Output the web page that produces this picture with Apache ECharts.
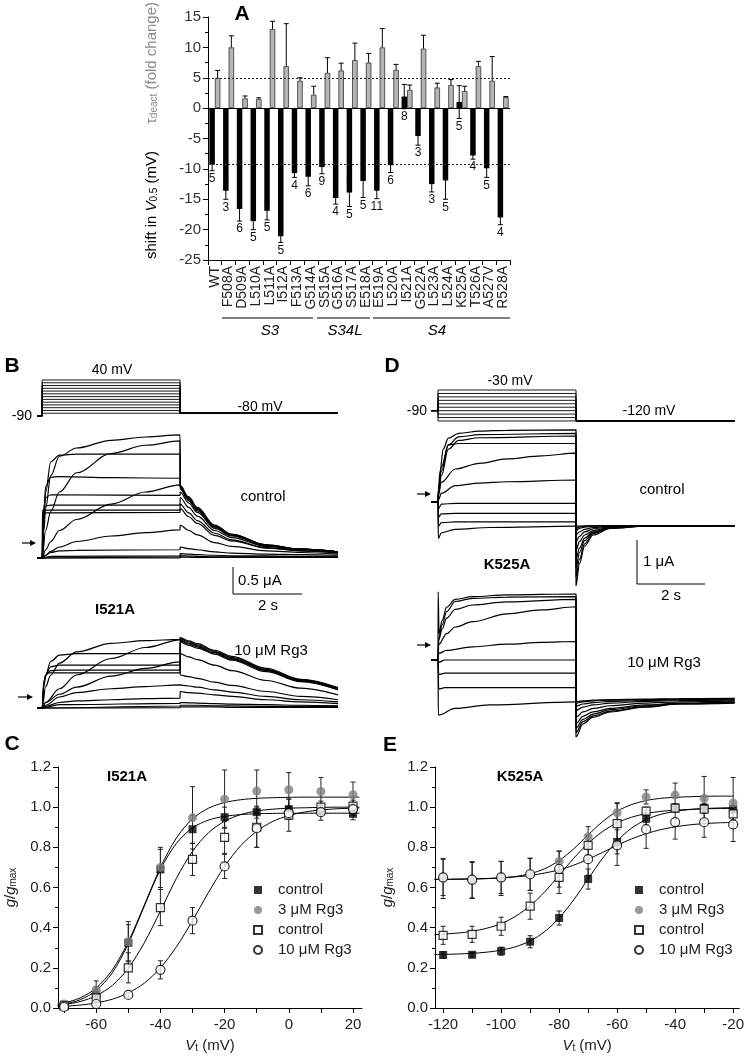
<!DOCTYPE html>
<html><head><meta charset="utf-8">
<script src="https://cdn.jsdelivr.net/npm/echarts@6/dist/echarts.min.js"></script>
<style>html,body{margin:0;padding:0;background:#fff}#c{width:747px;height:1061px}</style>
</head><body><div id="c"></div>
<script>
// ---------------- Panel A data ----------------
const categories = ['WT','F508A','D509A','L510A','L511A','I512A','F513A','G514A','S515A','G516A','S517A','E518A','E519A','L520A','I521A','G522A','L523A','L524A','K525A','T526A','A527V','R528A'];
const shiftV   = [-9.3,-13.6,-16.6,-18.6,-16.9,-21.1,-10.7,-11.3,-9.7,-14.8,-13.9,-12.0,-13.6,-9.4,1.9,-4.6,-12.5,-11.9,1.0,-7.8,-9.9,-18.0];
const shiftErr = [1.0,1.4,2.0,1.4,1.5,1.0,0.7,1.5,1.1,1.0,2.3,2.7,1.3,1.2,2.0,1.5,1.3,3.1,2.7,0.6,1.5,1.2];
const nCells   = [5,3,6,5,5,5,4,6,9,4,5,5,11,6,8,3,3,5,5,4,5,4];
const tauFold  = [5.0,10.0,1.6,1.5,13.0,6.9,4.5,2.2,5.8,6.2,7.9,7.5,10.0,6.3,3.0,9.8,3.4,3.8,2.8,6.9,4.5,1.8];
const tauErr   = [1.2,1.9,0.4,0.2,1.3,7.0,0.5,1.4,2.5,1.2,2.8,1.5,3.1,0.9,0.8,2.2,0.7,0.9,0.8,0.8,4.0,0.1];
const refTau = 5, refShift = -9.3;
const aTicks = [-25,15,5];

// ---------------- Panel B data (I521A, +40 protocol) ----------------
const bStepV = [-80,-70,-60,-50,-40,-30,-20,-10,0,10,20,30,40];
const bHoldV = -90, bTailV = -80;
const bTimes = [-0.15, 0, 4, 8.58]; // hold start, step start, step end, end (s)
const bTailT = [4.001,4.25,4.5,5,5.5,6.5,7.5,8.58];
const bCtrlStep = [
 [[0,0],[0.05,0.5],[0.1,0.9],[0.25,1.5],[0.5,1.85],[1,2.0],[2,2.14],[3,2.2],[4,2.24]],
 [[0,0],[0.1,0.5],[0.25,0.85],[0.5,1.2],[1,1.55],[2,1.9],[3,2.05],[4,2.13]],
 [[0,0],[0.05,0.7],[0.1,1.2],[0.25,1.75],[0.5,1.87],[1,1.89],[4,1.89]],
 [[0,0],[0.05,0.8],[0.1,1.3],[0.25,1.47],[0.5,1.48],[2,1.46],[4,1.45]],
 [[0,0],[0.1,0.15],[0.25,0.3],[0.5,0.5],[1,0.7],[2,0.98],[3,1.2],[4,1.33]],
 [[0,0],[0.04,0.9],[0.1,1.1],[0.25,1.15],[4,1.14]],
 [[0,0],[0.03,0.85],[0.1,0.95],[0.25,0.96],[4,0.96]],
 [[0,0],[0.01,0.87],[0.1,0.87],[4,0.87]],
 [[0,0],[0.02,0.7],[0.1,0.82],[4,0.83]],
 [[0,0],[0.1,0.05],[0.25,0.12],[0.5,0.2],[1,0.3],[2,0.4],[3,0.46],[4,0.51]],
 [[0,0],[0.1,0.05],[0.25,0.1],[0.5,0.13],[1,0.14],[4,0.15]],
 [[0,0],[0.25,0.03],[4,0.04]],
 [[0,0],[4,0.02]],
 [[0,0],[4,0.0]]
];
const bCtrlTail = [
 [1.32,1.1,0.9,0.59,0.43,0.24,0.16,0.11],
 [1.3,1.08,0.89,0.58,0.42,0.23,0.16,0.11],
 [1.28,1.06,0.88,0.57,0.41,0.23,0.16,0.11],
 [1.25,1.04,0.86,0.56,0.41,0.23,0.16,0.11],
 [1.33,1.11,0.92,0.6,0.43,0.24,0.16,0.11],
 [1.2,1.0,0.83,0.54,0.4,0.22,0.15,0.11],
 [1.1,0.92,0.76,0.5,0.37,0.21,0.15,0.11],
 [0.98,0.82,0.68,0.45,0.33,0.19,0.13,0.1],
 [0.9,0.75,0.63,0.41,0.31,0.18,0.13,0.09],
 [0.6,0.5,0.42,0.28,0.21,0.13,0.1,0.07],
 [0.2,0.17,0.15,0.11,0.09,0.07,0.06,0.05],
 [0.08,0.07,0.06,0.05,0.04,0.04,0.03,0.03],
 [0.04,0.035,0.03,0.02,0.02,0.02,0.02,0.02],
 [0.02,0.015,0.01,0.01,0.01,0.01,0.01,0.01]
];
const bRgStep = [
 [[0,0],[0.1,0.39],[0.25,0.6],[0.5,0.815],[1,1.02],[2,1.176],[3,1.224],[4,1.249]],
 [[0,0],[0.1,0.1],[0.5,0.35],[1,0.6],[2,0.9],[3,1.1],[4,1.24]],
 [[0,0],[0.05,0.4],[0.1,0.6],[0.25,0.85],[0.5,0.96],[1,0.99],[4,0.99]],
 [[0,0],[0.1,0.1],[0.5,0.25],[1,0.38],[2,0.58],[3,0.72],[4,0.84]],
 [[0,0],[0.05,0.45],[0.1,0.6],[0.25,0.75],[0.5,0.78],[4,0.78]],
 [[0,0],[0.05,0.45],[0.1,0.6],[0.25,0.68],[0.5,0.69],[4,0.69]],
 [[0,0],[0.05,0.5],[0.15,0.64],[4,0.64]],
 [[0,0],[0.1,0.05],[0.5,0.2],[1,0.28],[2,0.35],[3,0.39],[4,0.42]],
 [[0,0],[0.1,0.03],[0.5,0.1],[1,0.13],[2,0.15],[3,0.17],[4,0.18]],
 [[0,0],[0.5,0.06],[4,0.085]],
 [[0,0],[4,0.036]],
 [[0,0],[4,0.006]]
];
const bRgTail = [
 [1.28,1.22,1.17,1.05,0.94,0.72,0.52,0.37],
 [1.26,1.2,1.15,1.03,0.92,0.70,0.51,0.36],
 [1.24,1.18,1.13,1.01,0.9,0.69,0.5,0.35],
 [0.6,0.57,0.54,0.47,0.41,0.3,0.21,0.15],
 [1.22,1.16,1.11,1.0,0.89,0.68,0.49,0.34],
 [1.2,1.14,1.09,0.98,0.87,0.66,0.48,0.33],
 [0.99,0.93,0.88,0.78,0.68,0.5,0.36,0.24],
 [0.42,0.4,0.38,0.33,0.29,0.21,0.15,0.11],
 [0.3,0.28,0.27,0.24,0.21,0.15,0.11,0.08],
 [0.1,0.095,0.09,0.08,0.07,0.06,0.05,0.04],
 [0.05,0.05,0.05,0.04,0.04,0.03,0.03,0.03],
 [0.02,0.02,0.02,0.02,0.01,0.01,0.01,0.01]
];

// ---------------- Panel D data (K525A, -30 protocol) ----------------
const dStepV = [-120,-110,-100,-90,-80,-70,-60,-50,-40,-30];
const dHoldV = -90, dTailV = -120;
const dTimes = [-0.2, 0, 4, 8.6];
const dTailCtrlT = [4.001,4.1,4.25,4.5,5,6,8.6];
const dTailRgT = [4.001,4.2,4.5,5,6,7,8.6];
const dCtrlStep = [
 [[0,0],[0.01,0.3],[0.06,0.7],[0.15,1.2],[0.3,1.45],[0.6,1.56],[1.2,1.61],[2,1.63],[4,1.64]],
 [[0,0],[0.01,0.25],[0.1,0.7],[0.3,1.3],[0.6,1.48],[1.2,1.53],[4,1.56]],
 [[0,0],[0.01,0.2],[0.1,0.6],[0.3,1.2],[0.6,1.4],[1.2,1.46],[4,1.5]],
 [[0,0],[0.01,0.2],[0.1,0.8],[0.3,1.3],[0.6,1.33],[4,1.33]],
 [[0,0],[0.01,0.15],[0.1,0.45],[0.5,0.75],[1.2,0.88],[2,0.98],[3,1.05],[4,1.11]],
 [[0,0],[0.01,0.05],[0.1,0.2],[0.5,0.37],[1.2,0.43],[2,0.46],[4,0.5]],
 [[0,0],[0.01,-0.15],[0.1,-0.05],[0.5,-0.03],[4,-0.03]],
 [[0,0],[0.01,-0.35],[0.1,-0.27],[0.5,-0.26],[4,-0.26]],
 [[0,0],[0.01,-0.55],[0.1,-0.47],[0.5,-0.45],[4,-0.45]],
 [[0,0],[0.01,-0.83],[0.1,-0.7],[0.5,-0.62],[1.5,-0.58],[4,-0.55]]
];
const dCtrlTail = [
 [-1.9,-1.4,-1.0,-0.75,-0.6,-0.55,-0.54],
 [-1.7,-1.3,-0.95,-0.72,-0.59,-0.55,-0.54],
 [-1.5,-1.15,-0.88,-0.7,-0.58,-0.55,-0.54],
 [-1.3,-1.05,-0.82,-0.68,-0.58,-0.55,-0.54],
 [-1.1,-0.9,-0.75,-0.65,-0.57,-0.55,-0.54],
 [-0.9,-0.78,-0.68,-0.61,-0.56,-0.54,-0.54],
 [-0.75,-0.68,-0.62,-0.58,-0.55,-0.54,-0.54],
 [-0.65,-0.6,-0.57,-0.55,-0.54,-0.54,-0.54],
 [-0.6,-0.57,-0.55,-0.54,-0.54,-0.54,-0.54],
 [-0.56,-0.55,-0.54,-0.54,-0.54,-0.54,-0.54]
];
const dRgStep = [
 [[0,0],[0.005,1.55],[0.03,0.6],[0.12,0.9],[0.25,1.2],[0.5,1.38],[1,1.44],[2,1.48],[4,1.5]],
 [[0,0],[0.02,0.5],[0.12,0.8],[0.25,1.1],[0.5,1.33],[1,1.4],[2,1.43],[4,1.44]],
 [[0,0],[0.02,0.45],[0.12,0.7],[0.25,0.95],[0.5,1.15],[1,1.25],[2,1.32],[4,1.38]],
 [[0,0],[0.02,0.35],[0.25,0.6],[0.5,0.75],[1,0.87],[2,1.05],[3,1.14],[4,1.21]],
 [[0,0],[0.02,0.15],[0.25,0.22],[1,0.3],[2,0.36],[3,0.4],[4,0.42]],
 [[0,0],[0.02,-0.05],[0.2,0],[4,0]],
 [[0,0],[0.02,-0.33],[0.2,-0.3],[4,-0.3]],
 [[0,0],[0.02,-0.66],[0.2,-0.63],[4,-0.63]],
 [[0,0],[0.01,-1.25],[0.5,-1.1],[1.5,-1.02],[4,-0.95]]
];
const dRgTail = [
 [-1.75,-1.45,-1.3,-1.18,-1.07,-1.0,-0.98],
 [-1.65,-1.4,-1.27,-1.16,-1.06,-1.0,-0.97],
 [-1.55,-1.35,-1.23,-1.13,-1.04,-0.99,-0.96],
 [-1.45,-1.28,-1.18,-1.1,-1.02,-0.98,-0.95],
 [-1.3,-1.18,-1.1,-1.04,-0.98,-0.95,-0.93],
 [-1.15,-1.07,-1.02,-0.98,-0.94,-0.92,-0.91],
 [-1.05,-1.0,-0.97,-0.94,-0.92,-0.9,-0.89],
 [-0.98,-0.95,-0.93,-0.91,-0.9,-0.89,-0.88],
 [-0.95,-0.93,-0.91,-0.9,-0.89,-0.88,-0.87]
];

// ---------------- Panel C data (I521A G-V) ----------------
const cVt = [-70,-60,-50,-40,-30,-20,-10,0,10,20];
const cCtrl1 = [0.017,0.067,0.325,0.69,0.89,0.95,0.975,0.99,0.98,0.967];
const cCtrl1Err = [0.01,0.04,0.09,0.1,0.07,0.05,0.03,0.05,0.02,0.03];
const cRg3 = [0.02,0.09,0.33,0.70,0.947,1.04,1.08,1.087,1.078,1.062];
const cRg3Err = [0.01,0.045,0.1,0.1,0.155,0.145,0.105,0.085,0.07,0.063];
const cCtrl2 = [0.01,0.05,0.20,0.50,0.74,0.85,0.90,0.96,1.0,1.005];
const cCtrl2Err = [0.01,0.02,0.075,0.09,0.08,0.08,0.1,0.08,0.03,0.03];
const cRg10 = [0.005,0.02,0.065,0.19,0.435,0.705,0.895,0.97,0.975,0.99];
const cRg10Err = [0.005,0.01,0.01,0.045,0.065,0.06,0.095,0.03,0.04,0.03];
const cFitV = [-72,-70,-65,-60,-55,-50,-45,-40,-35,-30,-25,-20,-15,-10,-5,0,5,10,15,20,22];
const cFitCtrl1 = [0.014,0.019,0.041,0.087,0.175,0.32,0.508,0.69,0.82,0.897,0.936,0.954,0.963,0.967,0.969,0.97,0.97,0.97,0.97,0.97,0.97];
const cFitRg3 = [0.0185,0.025,0.05,0.10,0.189,0.33,0.513,0.70,0.847,0.942,0.995,1.023,1.037,1.044,1.047,1.049,1.05,1.05,1.05,1.05,1.05];
const cFitCtrl2 = [0.013,0.017,0.032,0.061,0.112,0.198,0.325,0.483,0.646,0.78,0.873,0.93,0.963,0.981,0.99,0.995,0.997,0.999,1.0,1.0,1.0];
const cFitRg10 = [0.0067,0.0083,0.0146,0.0253,0.0437,0.075,0.124,0.20,0.305,0.435,0.576,0.705,0.808,0.88,0.929,0.958,0.976,0.986,0.992,0.995,0.996];
const cXLabels = [-60,-40,-20,0,20];
const cXTicks = [-70,-60,-50,-40,-30,-20,-10,0,10,20];

// ---------------- Panel E data (K525A G-V) ----------------
const eVt = [-120,-110,-100,-90,-80,-70,-60,-50,-40,-30,-20];
const eCtrl1 = [0.264,0.265,0.283,0.33,0.448,0.642,0.827,0.942,0.997,0.997,0.99];
const eCtrl1Err = [0.015,0.01,0.02,0.03,0.035,0.05,0.06,0.03,0.02,0.02,0.02];
const eRg3 = [0.645,0.635,0.645,0.665,0.73,0.853,0.972,1.051,1.06,1.043,1.021];
const eRg3Err = [0.1,0.09,0.085,0.08,0.05,0.05,0.05,0.035,0.06,0.11,0.127];
const eCtrl2 = [0.362,0.367,0.407,0.507,0.65,0.81,0.918,0.98,0.995,0.99,0.967];
const eCtrl2Err = [0.045,0.04,0.045,0.065,0.08,0.05,0.1,0.02,0.02,0.02,0.03];
const eRg10 = [0.65,0.639,0.65,0.666,0.692,0.741,0.81,0.89,0.926,0.925,0.914];
const eRg10Err = [0.09,0.09,0.08,0.08,0.09,0.08,0.1,0.095,0.085,0.075,0.085];
const eFitV = [-123,-120,-115,-110,-105,-100,-95,-90,-85,-80,-75,-70,-65,-60,-55,-50,-45,-40,-35,-30,-25,-20];
const eFitCtrl1 = [0.267,0.267,0.269,0.272,0.278,0.288,0.305,0.334,0.380,0.448,0.538,0.643,0.746,0.832,0.896,0.938,0.964,0.979,0.988,0.993,0.996,0.998];
const eFitRg3 = [0.640,0.640,0.641,0.642,0.644,0.648,0.655,0.669,0.693,0.734,0.792,0.862,0.928,0.980,1.013,1.033,1.044,1.049,1.052,1.054,1.055,1.055];
const eFitCtrl2 = [0.365,0.368,0.373,0.382,0.397,0.42,0.457,0.509,0.578,0.661,0.745,0.82,0.879,0.922,0.95,0.968,0.979,0.985,0.989,0.992,0.993,0.994];
const eFitRg10 = [0.641,0.641,0.642,0.643,0.645,0.648,0.653,0.660,0.672,0.688,0.711,0.741,0.775,0.810,0.842,0.868,0.888,0.902,0.912,0.918,0.922,0.924];
const eXLabels = [-120,-100,-80,-60,-40,-20];
const eXTicks = [-120,-110,-100,-90,-80,-70,-60,-50,-40,-30,-20];

const legendNames = {ctrl1:'control', rg3:'3 \u03bcM Rg3', ctrl2:'control', rg10:'10 \u03bcM Rg3'};

// ======================================================
const FONT = '"Liberation Sans", Arial, Helvetica, sans-serif';
const TXT = '#222';
const chart = echarts.init(document.getElementById('c'), null, {renderer:'canvas'});

const grids = [
  {left:208, top:17, width:302, height:243},          // 0 A
  {left:37, top:378.6, width:301, height:38.8},       // 1 B protocol
  {left:37, top:431.5, width:301, height:132},        // 2 B control
  {left:37, top:631, width:301, height:82.5},         // 3 B Rg3
  {left:431.1, top:388.3, width:303.6, height:34.4},  // 4 D protocol
  {left:431.1, top:425, width:303.6, height:165},     // 5 D control
  {left:431.1, top:587.4, width:303.6, height:156.2}, // 6 D Rg3
  {left:58, top:767, width:304, height:241},          // 7 C
  {left:435, top:767, width:305, height:241}          // 8 E
];
const hiddenX = (g, min, max) => ({gridIndex:g, type:'value', min, max, show:false, splitLine:{show:false}});
const hiddenY = (g, min, max) => ({gridIndex:g, type:'value', min, max, show:false, splitLine:{show:false}});

const nameRich = {
  i:{fontStyle:'italic', fontSize:15, fontFamily:FONT, color:TXT},
  s:{fontSize:10, fontFamily:FONT, color:TXT, verticalAlign:'bottom', lineHeight:10}
};
function gvX(g, min, max, labels, ticks){
  return {gridIndex:g, type:'value', min, max, position:'bottom',
    axisLine:{show:true, onZero:false, lineStyle:{color:'#000', width:1}},
    axisTick:{show:true, length:5, customValues:ticks, lineStyle:{color:'#000'}},
    axisLabel:{show:true, customValues:labels, fontSize:15, color:TXT, margin:9, fontFamily:FONT},
    splitLine:{show:false},
    name:'{i|V}{s|t} (mV)', nameLocation:'middle', nameGap:30,
    nameTextStyle:{fontSize:15, color:TXT, fontFamily:FONT, rich:nameRich}};
}
function gvY(g){
  return {gridIndex:g, type:'value', min:0, max:1.2, interval:0.2,
    axisLine:{show:true, onZero:false, lineStyle:{color:'#000', width:1}},
    axisTick:{show:true, length:5, lineStyle:{color:'#000'}},
    minorTick:{show:true, splitNumber:2, length:3, lineStyle:{color:'#000'}},
    axisLabel:{fontSize:15, color:TXT, margin:7, fontFamily:FONT, formatter:v=>v.toFixed(1)},
    splitLine:{show:false},
    name:'{i|g}/{i|g}{s|max}', nameLocation:'middle', nameRotate:90, nameGap:40,
    nameTextStyle:{fontSize:15, color:TXT, fontFamily:FONT, rich:nameRich}};
}

const xAxes = [
  {gridIndex:0, type:'category', data:categories, position:'bottom',
   axisLine:{onZero:false, lineStyle:{color:'#000', width:1}},
   axisTick:{show:true, length:5, interval:0, alignWithLabel:false, lineStyle:{color:'#000'}},
   axisLabel:{interval:0, rotate:90, fontSize:14, color:TXT, margin:6, fontFamily:FONT}},
  hiddenX(1, bTimes[0], bTimes[3]),
  hiddenX(2, bTimes[0], bTimes[3]),
  hiddenX(3, bTimes[0], bTimes[3]),
  hiddenX(4, dTimes[0], dTimes[3]),
  hiddenX(5, dTimes[0], dTimes[3]),
  hiddenX(6, dTimes[0], dTimes[3]),
  gvX(7, -71.9, 22.8, cXLabels, cXTicks),
  gvX(8, -122.8, -17.9, eXLabels, eXTicks)
];
const yAxes = [
  {gridIndex:0, type:'value', min:aTicks[0], max:aTicks[1], interval:aTicks[2],
   axisLine:{show:true, onZero:false, lineStyle:{color:'#000', width:1}},
   axisTick:{show:true, length:5, lineStyle:{color:'#000'}},
   minorTick:{show:true, splitNumber:2, length:3, lineStyle:{color:'#000'}},
   axisLabel:{fontSize:15, color:'#333', margin:7, fontFamily:FONT},
   splitLine:{show:false}},
  hiddenY(1, -95, 45),
  hiddenY(2, -0.1, 2.3),
  hiddenY(3, -0.1, 1.4),
  hiddenY(4, -125, -25),
  hiddenY(5, -2.0, 1.75),
  hiddenY(6, -1.9, 1.65),
  gvY(7),
  gvY(8)
];

const series = [];
// ---- Panel A bars
series.push({type:'bar', name:'shift', xAxisIndex:0, yAxisIndex:0, data:shiftV, barWidth:5.5, barGap:'0%',
  itemStyle:{color:'#000'}, z:2,
  markLine:{silent:true, symbol:'none', label:{show:false}, lineStyle:{type:'solid', color:'#000', width:1},
    data:[{yAxis:0}]}});
series.push({type:'bar', name:'tau', xAxisIndex:0, yAxisIndex:0, data:tauFold, barWidth:5.5, barGap:'0%',
  itemStyle:{color:'#b5b5b5', borderColor:'#333', borderWidth:0.8}, z:2,
  markLine:{silent:true, symbol:'none', label:{show:false}, lineStyle:{type:[2,2], color:'#222', width:1},
    data:[{yAxis:refTau},{yAxis:refShift}]}});
const aErrData = categories.map((c,i)=>[i, shiftV[i], shiftErr[i], 0]).concat(categories.map((c,i)=>[i, tauFold[i], tauErr[i], 1]));
series.push({type:'custom', xAxisIndex:0, yAxisIndex:0, z:3, data:aErrData,
  renderItem:function(params, api){
    const i=api.value(0), v=api.value(1), e=api.value(2), k=api.value(3);
    const off = k===0 ? -2.75 : 2.75;
    const p = api.coord([i, v]); const x = p[0]+off;
    const yTop = api.coord([i, v+e])[1];
    const yBot = k===1 ? p[1] : api.coord([i, v-e])[1];
    const st = {stroke:'#000', lineWidth:1};
    const ch = [{type:'line', shape:{x1:x, y1:yBot, x2:x, y2:yTop}, style:st},
                {type:'line', shape:{x1:x-2.5, y1:yTop, x2:x+2.5, y2:yTop}, style:st}];
    if(k===0) ch.push({type:'line', shape:{x1:x-2.5, y1:yBot, x2:x+2.5, y2:yBot}, style:st});
    return {type:'group', children:ch};
  }});
series.push({type:'custom', xAxisIndex:0, yAxisIndex:0, z:4, data:categories.map((c,i)=>[i, Math.min(shiftV[i]-shiftErr[i], 0), nCells[i]]),
  renderItem:function(params, api){
    const p = api.coord([api.value(0), api.value(1)]);
    return {type:'text', x:p[0]-2.75, y:p[1]+8, style:{text:String(api.value(2)), fontSize:12, fontFamily:FONT, fill:'#111', align:'center', verticalAlign:'middle'}};
  }});

// ---- Panels B and D: protocols and current traces
const traceStyle = {color:'#000', width:1.2};
function protocolSeries(g, volts, hold, tailV, times){
  volts.forEach(V=>{
    series.push({type:'line', xAxisIndex:g, yAxisIndex:g, showSymbol:false, symbol:'none', silent:true,
      lineStyle:{color:'#000', width:0.9}, animation:false,
      data:[[times[0],hold],[times[1],hold],[times[1],V],[times[2],V],[times[2],tailV],[times[3],tailV]]});
  });
}
function traceSeries(g, steps, tails, tailT, t0){
  steps.forEach((st, j)=>{
    const data = [[t0,0]].concat(st, tails[j].map((v,m)=>[tailT[m], v]));
    series.push({type:'line', xAxisIndex:g, yAxisIndex:g, showSymbol:false, symbol:'none', silent:true,
      smooth:0.35, smoothMonotone:'x', lineStyle:traceStyle, data});
  });
}
protocolSeries(1, bStepV, bHoldV, bTailV, bTimes);
traceSeries(2, bCtrlStep, bCtrlTail, bTailT, bTimes[0]);
traceSeries(3, bRgStep, bRgTail, bTailT, bTimes[0]);
protocolSeries(4, dStepV, dHoldV, dTailV, dTimes);
traceSeries(5, dCtrlStep, dCtrlTail, dTailCtrlT, dTimes[0]);
traceSeries(6, dRgStep, dRgTail, dTailRgT, dTimes[0]);

// ---- Panels C and E: G-V
const styles = {
  ctrl1:{symbol:'rect', symbolSize:8, itemStyle:{color:'#000'}},
  rg3:{symbol:'circle', symbolSize:9, itemStyle:{color:'#7f7f7f'}},
  ctrl2:{symbol:'rect', symbolSize:8, itemStyle:{color:'#fff', borderColor:'#000', borderWidth:1.2}},
  rg10:{symbol:'circle', symbolSize:9, itemStyle:{color:'#fff', borderColor:'#000', borderWidth:1.2}}
};
function errSeries(g, xs, ys, es){
  series.push({type:'custom', xAxisIndex:g, yAxisIndex:g, z:3, silent:true,
    data: xs.map((x,i)=>[x, ys[i], es[i]]),
    renderItem:function(params, api){
      const x=api.value(0), y=api.value(1), e=api.value(2);
      const a=api.coord([x, y+e]), b=api.coord([x, y-e]);
      const st={stroke:'#222', lineWidth:1};
      return {type:'group', children:[
        {type:'line', shape:{x1:a[0], y1:a[1], x2:b[0], y2:b[1]}, style:st},
        {type:'line', shape:{x1:a[0]-2.5, y1:a[1], x2:a[0]+2.5, y2:a[1]}, style:st},
        {type:'line', shape:{x1:b[0]-2.5, y1:b[1], x2:b[0]+2.5, y2:b[1]}, style:st}]};
    }});
}
function gvPanel(g, prefix, xs, sets, fitX, fits){
  ['ctrl1','rg3','ctrl2','rg10'].forEach((k, j)=>{
    series.push({type:'line', xAxisIndex:g, yAxisIndex:g, showSymbol:false, symbol:'none', silent:true, z:2,
      smooth:0.3, lineStyle:{color:'#000', width:1}, data:fitX.map((x,i)=>[x, fits[j][i]])});
    errSeries(g, xs, sets[j][0], sets[j][1]);
  });
  ['ctrl1','rg3','ctrl2','rg10'].forEach((k, j)=>{
    series.push(Object.assign({type:'scatter', name:prefix+k, xAxisIndex:g, yAxisIndex:g, z:5,
      data:xs.map((x,i)=>[x, sets[j][0][i]])}, styles[k]));
  });
}
gvPanel(7, 'c_', cVt, [[cCtrl1,cCtrl1Err],[cRg3,cRg3Err],[cCtrl2,cCtrl2Err],[cRg10,cRg10Err]], cFitV, [cFitCtrl1,cFitRg3,cFitCtrl2,cFitRg10]);
gvPanel(8, 'e_', eVt, [[eCtrl1,eCtrl1Err],[eRg3,eRg3Err],[eCtrl2,eCtrl2Err],[eRg10,eRg10Err]], eFitV, [eFitCtrl1,eFitRg3,eFitCtrl2,eFitRg10]);

function legendFor(prefix, left){
  return {data:['ctrl1','rg3','ctrl2','rg10'].map(k=>prefix+k), orient:'vertical', left, top:877,
    itemWidth:8, itemHeight:8, itemGap:4, selectedMode:false,
    formatter:n=>legendNames[n.slice(2)],
    textStyle:{fontSize:15, color:TXT, fontFamily:FONT, lineHeight:16, padding:[0,0,0,11]}};
}

// ---- annotations
const G = [];
function txt(x, y, text, o){ G.push({type:'text', x, y, silent:true, style:Object.assign({text, fontSize:15, fontFamily:FONT, fill:'#000', align:'center', verticalAlign:'middle'}, o||{})}); }
function ln(x1,y1,x2,y2,w){ G.push({type:'line', silent:true, shape:{x1,y1,x2,y2}, style:{stroke:'#000', lineWidth:w||1}}); }
function arrow(x1,x2,y){ ln(x1,y,x2-4,y,1.2); G.push({type:'polygon', silent:true, shape:{points:[[x2,y],[x2-6,y-3],[x2-6,y+3]]}, style:{fill:'#000'}}); }
// panel letters
txt(242,14,'A',{fontSize:21,fontWeight:'bold'});
txt(12,366,'B',{fontSize:21,fontWeight:'bold'});
txt(392,366,'D',{fontSize:21,fontWeight:'bold'});
txt(12,744,'C',{fontSize:21,fontWeight:'bold'});
txt(390,745,'E',{fontSize:21,fontWeight:'bold'});
// Panel A axis title
G.push({type:'text', x:152, y:205, rotation:Math.PI/2, silent:true,
  style:{text:'shift in {i|V}{s|0.5} (mV)', fontSize:15, fontFamily:FONT, fill:'#000', align:'center', verticalAlign:'middle',
    rich:{i:{fontStyle:'italic', fontSize:15, fontFamily:FONT, fill:'#000'}, s:{fontSize:10, fontFamily:FONT, fill:'#000', verticalAlign:'bottom', lineHeight:10}}}});
G.push({type:'text', x:152, y:63, rotation:Math.PI/2, silent:true,
  style:{text:'\u03c4{s|deact} (fold change)', fontSize:15, fontFamily:FONT, fill:'#8a8a8a', align:'center', verticalAlign:'middle',
    rich:{s:{fontSize:10, fontFamily:FONT, fill:'#8a8a8a', verticalAlign:'bottom', lineHeight:10}}}});
// segment brackets
ln(222,318,313,318); ln(317,318,370,318); ln(373,318,510,318);
txt(270,331,'S3',{fontStyle:'italic'}); txt(345,331,'S34L',{fontStyle:'italic'}); txt(437,331,'S4',{fontStyle:'italic'});
// Panel B labels
txt(112,370,'40 mV',{fontSize:14}); txt(260,407,'-80 mV',{fontSize:14}); txt(32,416,'-90',{fontSize:14, align:'right'});
txt(263,497,'control'); txt(115,610,'I521A',{fontWeight:'bold'}); txt(271,651,'10 \u03bcM Rg3');
ln(233,567,233,594); ln(233,594,302,594); txt(238,581,'0.5 \u03bcA',{align:'left'}); txt(268,606,'2 s');
arrow(22,36,543); arrow(18,33,697);
// Panel D labels
txt(510,381,'-30 mV',{fontSize:14}); txt(649,411,'-120 mV',{fontSize:14}); txt(427,411,'-90',{fontSize:14, align:'right'});
txt(662,490,'control'); txt(507,565,'K525A',{fontWeight:'bold'}); txt(664,663,'10 \u03bcM Rg3');
ln(637,540,637,584); ln(637,584,705,584); txt(643,562,'1 \u03bcA',{align:'left'}); txt(671,596,'2 s');
arrow(417,431,494); arrow(417,431,645);
// C / E titles
txt(127,777,'I521A',{fontWeight:'bold'}); txt(520,777,'K525A',{fontWeight:'bold'});

chart.setOption({
  animation:false,
  textStyle:{fontFamily:FONT},
  grid:grids, xAxis:xAxes, yAxis:yAxes,
  legend:[legendFor('c_',248), legendFor('e_',629)],
  series,
  graphic:{elements:G}
});
</script></body></html>
